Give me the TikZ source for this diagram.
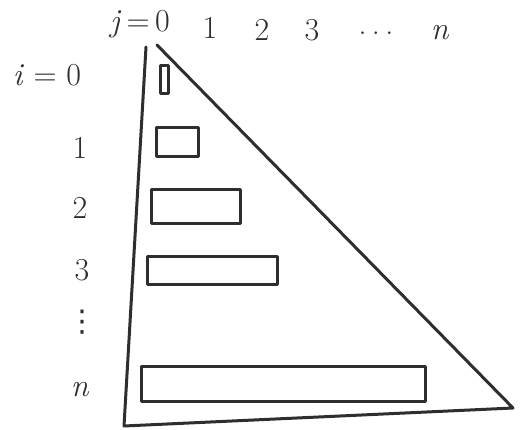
\documentclass[tikz,border=0pt]{standalone}
\usepackage{fontspec}
\usepackage{tikz}
\usetikzlibrary{calc}
\newfontfamily\dotsfont{DejaVu Sans}
\definecolor{ink}{HTML}{2E2E2E}
\tikzset{
    pen/.style={ink, line width=3pt, line join=round, line cap=round},
    lbl/.style={ink, font=\fontsize{32}{36}\selectfont, inner sep=0pt}
}
\begin{document}
\begin{tikzpicture}[x=1pt, y=-1pt]
    \useasboundingbox (0,0) rectangle (527,430);
    % triangle corners
    \coordinate (top) at (146,47);
    \coordinate (apex) at (157,45);
    \coordinate (bl) at (124,426);
    \coordinate (br) at (513,408);
    \draw[pen] (top) -- (bl) -- (br) -- (apex);
    % row bars
    \draw[pen] (160,66) rectangle (168,94);
    \draw[pen] (156,128) rectangle (198,157);
    \draw[pen] (151,190) rectangle (240,224);
    \draw[pen] (147,257) rectangle (277,284);
    \draw[pen] (141,366) rectangle (425,401);
    % column labels
    \node[lbl] (j0) at (140,24) {\textit{j}\,=\,0};
    \node[lbl] (j1) at (210,28) {1};
    \node[lbl] (j2) at (262,30) {2};
    \node[lbl] (j3) at (312,30) {3};
    \node[lbl] (jdots) at (376,33) {.\,.\,.};
    \node[lbl] (jn) at (440,33) {\textit{n}};
    % row labels
    \node[lbl] (i0) at (47,75) {\textit{i} = 0};
    \node[lbl] (i1) at (80,148) {1};
    \node[lbl] (i2) at (80,208) {2};
    \node[lbl] (i3) at (82,270) {3};
    \node[lbl, font=\dotsfont\fontsize{30}{34}\selectfont] (idots) at (82,322) {⋮};
    \node[lbl] (in) at (80,390) {\textit{n}};
\end{tikzpicture}
\end{document}
